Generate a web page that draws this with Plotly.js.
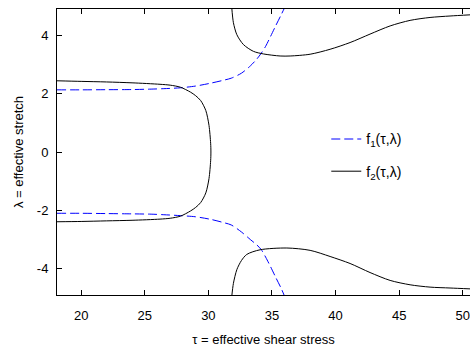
<!DOCTYPE html>
<html>
<head>
<meta charset="utf-8">
<script src="https://cdn.plot.ly/plotly-3.0.1.min.js"></script>
<style>html,body{margin:0;padding:0;background:#fff;}#chart{width:470px;height:347px;}</style>
</head>
<body>
<div id="chart"></div>
<script>
// f1 (blue dashed) upper and lower branches
var f1UpperTau = [18.1, 20, 22, 24, 25.5, 26.5, 27.8, 29.0, 30.2, 31.2, 31.8, 32.6, 33.3, 33.8, 34.15, 34.5, 34.9, 35.3, 35.7, 36.0];
var f1UpperLam = [2.13, 2.13, 2.135, 2.14, 2.155, 2.17, 2.2, 2.26, 2.36, 2.46, 2.53, 2.7, 2.95, 3.18, 3.38, 3.62, 3.97, 4.33, 4.68, 4.95];
var f1LowerTau = [18.1, 20, 22, 24, 25.5, 26.5, 27.8, 29.0, 30.2, 31.2, 31.8, 32.6, 33.3, 33.8, 34.15, 34.5, 34.9, 35.3, 35.7, 36.0];
var f1LowerLam = [-2.10, -2.10, -2.11, -2.12, -2.13, -2.15, -2.18, -2.22, -2.31, -2.42, -2.5, -2.74, -3.0, -3.18, -3.34, -3.6, -3.94, -4.3, -4.65, -4.95];

// f2 (black solid) left closed branch, ordered from top-left around to bottom-left
var f2LeftTau = [18.1, 20, 22, 24, 26.2, 27.0, 27.8, 28.6, 29.0, 29.4, 29.8, 30.05, 30.18, 30.2, 30.18, 30.05, 29.8, 29.4, 29.0, 28.6, 27.8, 27.0, 26.2, 24, 22, 20, 18.1];
var f2LeftLam = [2.44, 2.42, 2.40, 2.37, 2.32, 2.29, 2.22, 2.05, 1.93, 1.76, 1.42, 0.91, 0.3, 0, -0.3, -0.91, -1.40, -1.73, -1.9, -2.02, -2.2, -2.27, -2.3, -2.34, -2.36, -2.38, -2.39];

// f2 right branches
var f2UpperRightTau = [31.84, 31.97, 32.24, 32.76, 33.54, 34.33, 35.64, 36.43, 38.0, 39.57, 41.14, 42.71, 44.29, 45.86, 47.43, 49.0, 50.57];
var f2UpperRightLam = [4.95, 4.43, 4.02, 3.68, 3.45, 3.36, 3.29, 3.29, 3.35, 3.52, 3.75, 4.04, 4.32, 4.51, 4.61, 4.66, 4.70];
var f2LowerRightTau = [31.84, 31.97, 32.24, 32.6, 33.02, 34.07, 36.17, 38.0, 39.57, 41.14, 42.71, 44.29, 45.86, 47.43, 49.0, 50.57];
var f2LowerRightLam = [-4.95, -4.5, -4.03, -3.72, -3.51, -3.35, -3.29, -3.37, -3.58, -3.82, -4.13, -4.40, -4.55, -4.63, -4.66, -4.69];

var xTickVals = [20, 25, 30, 35, 40, 45, 50];
var yTickVals = [-4, -2, 0, 2, 4];

var blueLine = {color: '#0000ff', width: 1, dash: '9px,4px', shape: 'spline', smoothing: 0.8};
var blackLine = {color: '#000000', width: 1, shape: 'spline', smoothing: 0.8};

var traces = [
  {x: f1UpperTau, y: f1UpperLam, mode: 'lines', line: blueLine, name: 'f<sub>1</sub>(τ,λ)', legendgroup: 'f1', showlegend: true},
  {x: f1LowerTau, y: f1LowerLam, mode: 'lines', line: blueLine, name: 'f1 lower', legendgroup: 'f1', showlegend: false},
  {x: f2LeftTau, y: f2LeftLam, mode: 'lines', line: blackLine, name: 'f<sub>2</sub>(τ,λ)', legendgroup: 'f2', showlegend: true},
  {x: f2UpperRightTau, y: f2UpperRightLam, mode: 'lines', line: blackLine, name: 'f2 ur', legendgroup: 'f2', showlegend: false},
  {x: f2LowerRightTau, y: f2LowerRightLam, mode: 'lines', line: blackLine, name: 'f2 lr', legendgroup: 'f2', showlegend: false}
];

var font = {family: '"Liberation Sans", Arial, sans-serif', size: 13, color: '#000'};

var layout = {
  width: 470, height: 347,
  margin: {l: 57, r: 0, t: 9, b: 52},
  paper_bgcolor: '#fff', plot_bgcolor: '#fff',
  font: font,
  showlegend: true,
  legend: {x: 0.652, y: 0.6, xanchor: 'left', yanchor: 'top', bgcolor: 'rgba(0,0,0,0)',
           traceorder: 'grouped', tracegroupgap: 11, font: {family: font.family, size: 14, color: '#000'}},
  xaxis: {
    range: [18.1, 50.57], tickvals: xTickVals, ticktext: xTickVals.map(String),
    ticks: 'inside', ticklen: 5, tickcolor: '#000', tickwidth: 1,
    showline: true, linecolor: '#000', linewidth: 1, mirror: 'ticks',
    showgrid: false, zeroline: false, ticklabelstandoff: 8,
    tickfont: {family: font.family, size: 13, color: '#000'},
    title: {text: 'τ = effective shear stress', font: {family: font.family, size: 13, color: '#000'}, standoff: 14}
  },
  yaxis: {
    range: [-4.9, 4.9], tickvals: yTickVals, ticktext: yTickVals.map(String),
    ticks: 'inside', ticklen: 5, tickcolor: '#000', tickwidth: 1,
    showline: true, linecolor: '#000', linewidth: 1, mirror: false,
    showgrid: false, zeroline: false, ticklabelstandoff: 5,
    tickfont: {family: font.family, size: 13, color: '#000'},
    title: {text: 'λ = effective stretch', font: {family: font.family, size: 13, color: '#000'}, standoff: 10}
  }
};

Plotly.newPlot('chart', traces, layout, {displayModeBar: false, staticPlot: true});
</script>
</body>
</html>
